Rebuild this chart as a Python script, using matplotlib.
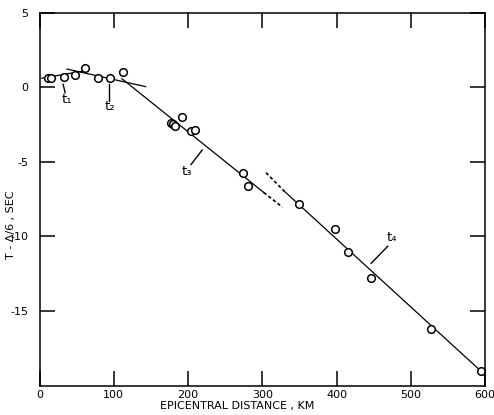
import matplotlib
matplotlib.use("Agg")
from matplotlib import pyplot as plt

plt.rcParams["axes.unicode_minus"] = False

# observed points (epicentral distance km, reduced time sec)
dist = [11, 15.5, 33.5, 48.4, 61, 78.6, 94.3, 112.4, 177.7, 180, 181.8, 192,
        203.4, 209, 273.6, 280.4, 348.8, 397.6, 416, 446.6, 527, 595]
tred = [0.60, 0.60, 0.69, 0.85, 1.32, 0.65, 0.65, 1.03, -2.42, -2.48, -2.60, -1.97,
        -2.93, -2.87, -5.72, -6.64, -7.85, -9.48, -11.03, -12.8, -16.2, -19.04]

# fitted travel-time branches
t1_x, t1_y = [3, 62], [0.62, 1.12]
t2_x, t2_y = [37, 143], [1.23, 0.05]
t3_x, t3_y = [111, 302], [0.58, -7.05]
t3_ext_x, t3_ext_y = [302, 327], [-7.05, -8.03]
t4_ext_x, t4_ext_y = [305, 329.5], [-5.72, -6.96]
t4_x, t4_y = [329.5, 595], [-6.96, -19.06]

xticks = [0, 100, 200, 300, 400, 500, 600]
yticks = [-15, -10, -5, 0, 5]

# branch labels: text, text position, leader start, leader end
labels = [("t₁", (37, -0.8), (34.5, -0.36), (31.8, 0.2)),
          ("t₂", (94.6, -1.25), (94, -0.92), (94, 0.2)),
          ("t₃", (199, -5.67), (204, -5.17), (219, -4.2)),
          ("t₄", (475, -10.1), (469, -10.65), (446.6, -11.8))]

fig = plt.figure(figsize=(4.94, 4.15), dpi=100)
ax = fig.add_axes([0.080, 0.071, 0.902, 0.898])

ax.plot(t1_x, t1_y, color="black", lw=0.9)
ax.plot(t2_x, t2_y, color="black", lw=0.9)
ax.plot(t3_x, t3_y, color="black", lw=0.9)
ax.plot(t4_x, t4_y, color="black", lw=0.9)
ax.plot(t3_ext_x, t3_ext_y, color="black", lw=1.2, linestyle=(0, (2, 1.5)))
ax.plot(t4_ext_x, t4_ext_y, color="black", lw=1.2, linestyle=(0, (2, 1.5)))

ax.plot(dist, tred, "o", mfc="white", mec="black", ms=5.5, mew=1.1, ls="none")

for txt, pos, a, b in labels:
    ax.plot([a[0], b[0]], [a[1], b[1]], color="black", lw=1.0)
    ax.text(pos[0], pos[1], txt, ha="center", va="center", fontsize=9.5)

ax.set_xlim(0, 600)
ax.set_ylim(-20, 5)
ax.set_xticks(xticks)
ax.set_yticks(yticks)
ax.tick_params(direction="in", length=10.5, width=1.1, top=True, right=True, labelsize=8)
ax.tick_params(axis="y", pad=8)
ax.tick_params(axis="x", pad=3)
for s in ax.spines.values():
    s.set_linewidth(1.1)

fig.text(237 / 494, 1 - 406 / 415, "EPICENTRAL DISTANCE , KM", ha="center", va="center", fontsize=8)
fig.text(11 / 494, 1 - 225 / 415, "T - Δ/6 , SEC", ha="center", va="center", rotation=90, fontsize=8)

fig.savefig("out.png", dpi=100)
